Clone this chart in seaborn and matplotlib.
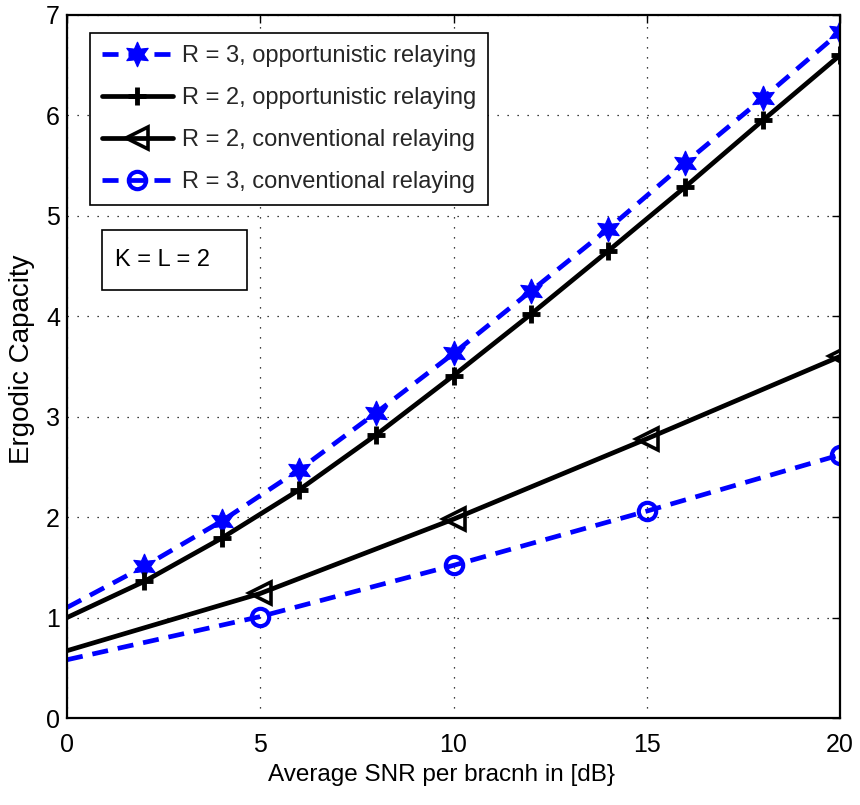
import matplotlib
matplotlib.use("Agg")
import matplotlib.pyplot as plt
import matplotlib.patches as mpatches
import seaborn as sns

# Average SNR per branch [dB]
snr_opp = [0, 2, 4, 6, 8, 10, 12, 14, 16, 18, 20]
snr_conv = [0, 5, 10, 15, 20]

# Ergodic capacity
cap_r3_opp = [1.10, 1.51, 1.96, 2.47, 3.04, 3.63, 4.25, 4.87, 5.53, 6.17, 6.83]
cap_r2_opp = [1.00, 1.36, 1.79, 2.27, 2.82, 3.41, 4.02, 4.65, 5.29, 5.95, 6.60]
cap_r2_conv = [0.67, 1.24, 1.98, 2.78, 3.60]
cap_r3_conv = [0.58, 1.01, 1.52, 2.06, 2.62]

labels = [
    "R = 3, opportunistic relaying",
    "R = 2, opportunistic relaying",
    "R = 2, conventional relaying",
    "R = 3, conventional relaying",
]

sns.set_theme(style="white")
plt.rcParams["font.family"] = ["Liberation Sans", "DejaVu Sans"]

fig = plt.figure(figsize=(8.6, 8.05), dpi=100)
ax = fig.add_axes([67 / 860, 1 - 718 / 805, 773 / 860, 703 / 805])

blue = "#0000ff"
dash = (0, (3.4, 2.1))
lw = 3.4
hexagram = (6, 1, 0)

sns.lineplot(x=snr_opp, y=cap_r3_opp, ax=ax, color=blue, lw=lw, linestyle=dash,
             marker=hexagram, markersize=18, markerfacecolor=blue, markeredgecolor=blue,
             markevery=slice(1, None), label=labels[0])
sns.lineplot(x=snr_opp, y=cap_r2_opp, ax=ax, color="black", lw=lw,
             marker="+", markersize=13, markeredgewidth=3.5, markeredgecolor="black",
             markevery=slice(1, None), label=labels[1])
sns.lineplot(x=snr_conv, y=cap_r2_conv, ax=ax, color="black", lw=lw,
             marker="<", markersize=16, markeredgewidth=2.6, markerfacecolor="none",
             markeredgecolor="black", markevery=slice(1, None), label=labels[2])
sns.lineplot(x=snr_conv, y=cap_r3_conv, ax=ax, color=blue, lw=lw, linestyle=dash,
             marker="o", markersize=12.5, markeredgewidth=3.0, markerfacecolor="none",
             markeredgecolor=blue, markevery=slice(1, None), label=labels[3])

ax.set_xlim(0, 20)
ax.set_ylim(0, 7)
ax.set_xticks([0, 5, 10, 15, 20])
ax.set_yticks(range(0, 8))
ax.grid(True, linestyle=(0, (1, 7)), color="black", linewidth=0.9)
for s in ax.spines.values():
    s.set_visible(True)
    s.set_color("black")
    s.set_linewidth(1.6)
ax.tick_params(direction="in", length=6, width=1, top=True, right=True,
               labelsize=18, colors="black")
ax.tick_params(axis="x", pad=11)
ax.tick_params(axis="y", pad=5)

ax.set_xlabel("Average SNR per bracnh in [dB}", fontsize=17.5, color="black")
ax.xaxis.set_label_coords(0.485, -0.065)
ax.set_ylabel("Ergodic Capacity", fontsize=20, color="black")
ax.yaxis.set_label_coords(-0.041, 0.51)

leg = ax.legend(loc="upper left", bbox_to_anchor=((90 - 67) / 773, (718 - 33) / 703),
                borderaxespad=0, fontsize=17, frameon=True, fancybox=False,
                handlelength=3.0, handletextpad=0.4, labelspacing=0.85,
                borderpad=0.5)
leg.get_frame().set_edgecolor("black")
leg.get_frame().set_linewidth(1.2)
leg.get_frame().set_alpha(1)

ax.add_patch(mpatches.Rectangle((35 / 773, (718 - 290) / 703), 145 / 773, 60 / 703,
                                transform=ax.transAxes, fill=True, facecolor="white",
                                edgecolor="black", lw=1.2, zorder=5))
ax.text(48 / 773, (718 - 260) / 703, "K = L = 2", transform=ax.transAxes,
        ha="left", va="center", fontsize=17, color="black", zorder=6)

fig.savefig("out.png", dpi=100)
